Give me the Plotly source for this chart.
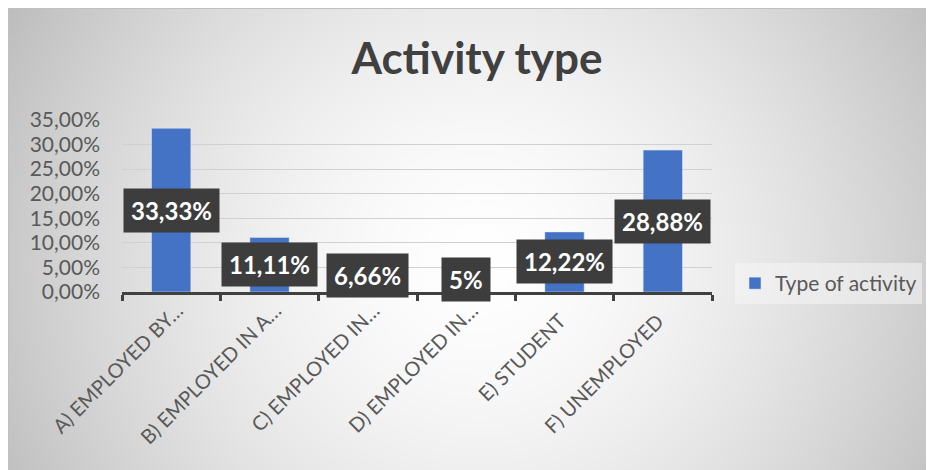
import base64, struct, zlib
import numpy as np
import plotly.graph_objects as go

categories = ["A) EMPLOYED BY…", "B) EMPLOYED IN A…", "C) EMPLOYED IN…",
              "D) EMPLOYED IN…", "E) STUDENT", "F) UNEMPLOYED"]
values = [0.3333, 0.1111, 0.0666, 0.05, 0.1222, 0.2888]
value_labels = ["33,33%", "11,11%", "6,66%", "5%", "12,22%", "28,88%"]
series_name = "Type of activity"
title_text = "Activity type"

# untruncated labels sit a bit lower in the original: pad them with trailing spaces
tick_labels = [c if c.endswith("…") else c + "\u00a0" * 3 for c in categories]

W, H = 934, 470
ML, MR, MT, MB = 114, 230, 112, 186
PW, PH = W - ML - MR, H - MT - MB


def px_x(px):
    return (px - ML) / PW


def px_y(py):
    return (H - MB - py) / PH


# decorative gradient background (chart area) as PNG
gw, gh = 234, 118
xs = np.linspace(0, W, gw)
ys = np.linspace(0, H, gh)
X, Y = np.meshgrid(xs, ys)
dx = (X - 472) / 473
dy = (Y - 252) / 230 * 0.5
r = np.sqrt(dx ** 2 + dy ** 2)
val = np.clip(255 - 53 * r ** 1.6, 180, 255).astype(np.uint8)
raw = b"".join(b"\x00" + val[i].tobytes() for i in range(gh))


def chunk(t, d):
    c = struct.pack(">I", len(d)) + t + d
    return c + struct.pack(">I", zlib.crc32(t + d) & 0xffffffff)


png = (b"\x89PNG\r\n\x1a\n" + chunk(b"IHDR", struct.pack(">IIBBBBB", gw, gh, 8, 0, 0, 0, 0))
       + chunk(b"IDAT", zlib.compress(raw, 9)) + chunk(b"IEND", b""))
bg_uri = "data:image/png;base64," + base64.b64encode(png).decode()

fig = go.Figure()
fig.add_trace(go.Bar(
    x=categories, y=values, name=series_name, marker_color="#4472C4",
    showlegend=True, hoverinfo="skip",
))

for c, v, lab in zip(categories, values, value_labels):
    fig.add_annotation(
        x=c, y=v / 2, xref="x", yref="y", text=f"<b>{lab}</b>", showarrow=False,
        font=dict(family="Lato", size=24, color="white"),
        bgcolor="#3d3d3d", borderpad=7, xanchor="center", yanchor="middle",
    )

fig.add_layout_image(
    source=bg_uri, xref="paper", yref="paper",
    x=px_x(0), y=px_y(0), sizex=px_x(W) - px_x(0), sizey=px_y(0) - px_y(H),
    xanchor="left", yanchor="top", sizing="stretch", layer="below",
)
fig.add_shape(type="rect", xref="paper", yref="paper",
              x0=px_x(0.5), x1=px_x(W + 10), y0=px_y(0.5), y1=px_y(H + 10),
              line=dict(color="#c0c0c0", width=1), fillcolor="rgba(0,0,0,0)", layer="below")

fig.update_layout(
    width=W, height=H,
    margin=dict(l=ML, r=MR, t=MT, b=MB, autoexpand=False),
    paper_bgcolor="white", plot_bgcolor="rgba(0,0,0,0)",
    separators=", ",
    bargap=0.6,
    font=dict(family="Lato", color="#595959"),
    title=dict(text=f"<b>{title_text}</b>", x=469 / W, xref="container", xanchor="center",
               y=1 - 51 / H, yref="container", yanchor="middle",
               font=dict(family="Lato", size=44, color="#404040")),
    legend=dict(x=px_x(727), y=px_y(255), xanchor="left", yanchor="top",
                bgcolor="rgba(245,245,245,0.55)", font=dict(family="Lato", size=21, color="#595959"),
                itemwidth=30, tracegroupgap=0),
    xaxis=dict(showline=True, linecolor="#404040", linewidth=3, ticks="outside",
               tickson="boundaries", ticklen=6, tickwidth=2.5, tickcolor="#404040",
               tickangle=-45, tickfont=dict(family="Lato", size=20, color="#595959"),
               tickmode="array", tickvals=categories, ticktext=tick_labels,
               ticklabelstandoff=-4, ticklabelshift=6, showgrid=False),
    yaxis=dict(range=[0, 0.35], dtick=0.05, tickformat=".2%", showline=False,
               zeroline=False, gridcolor="#d0d0d0", gridwidth=1.3,
               tickfont=dict(family="Lato", size=21, color="#595959"),
               ticklabelstandoff=21),
)

fig.write_html("out.html")
